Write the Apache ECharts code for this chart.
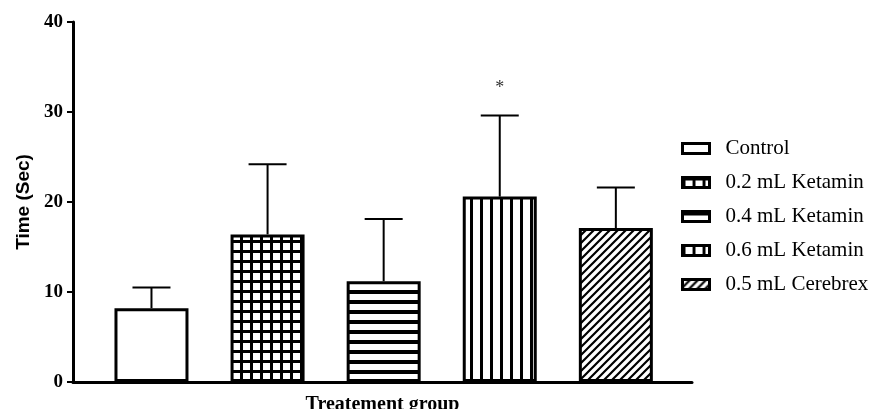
<!DOCTYPE html>
<html>
<head>
<meta charset="utf-8">
<script src="https://cdn.jsdelivr.net/npm/echarts@6/dist/echarts.min.js"></script>
<style>
  html, body { margin: 0; padding: 0; background: #fff; }
  #chart { width: 874px; height: 409px; }
</style>
</head>
<body>
<div id="chart"></div>
<script>
// Treatment groups, mean time (s) and the upper extent of the error bars (s)
const groups = ['Control', '0.2 mL Ketamin', '0.4 mL Ketamin', '0.6 mL Ketamin', '0.5 mL Cerebrex'];
const meanTime = [8.2, 16.4, 11.2, 20.6, 17.1];
const errorTop = [10.5, 24.2, 18.1, 29.6, 21.6];
const significance = ['', '', '', '*', ''];
const yTicks = [0, 10, 20, 30, 40];

// Hatch fills drawn on small tiles and repeated
function tile(w, h, draw) {
  const c = document.createElement('canvas');
  c.width = w; c.height = h;
  const ctx = c.getContext('2d');
  ctx.fillStyle = '#fff';
  ctx.fillRect(0, 0, w, h);
  ctx.fillStyle = '#000';
  ctx.strokeStyle = '#000';
  draw(ctx, w, h);
  return { image: c, repeat: 'repeat' };
}
const fills = [
  '#ffffff',
  tile(10, 10, (ctx) => { ctx.fillRect(0, 0, 10, 3); ctx.fillRect(0, 0, 3, 10); }),
  tile(10, 10, (ctx) => { ctx.fillRect(0, 0, 10, 4); }),
  tile(10, 10, (ctx) => { ctx.fillRect(0, 0, 3, 10); }),
  tile(8, 8, (ctx, w, h) => {
    ctx.lineWidth = 2.2;
    ctx.beginPath();
    ctx.moveTo(-1, h + 1); ctx.lineTo(w + 1, -1);
    ctx.moveTo(-1, 1); ctx.lineTo(1, -1);
    ctx.moveTo(w - 1, h + 1); ctx.lineTo(w + 1, h - 1);
    ctx.stroke();
  })
];

const chart = echarts.init(document.getElementById('chart'), null, { renderer: 'canvas' });

const barSeries = groups.map((name, i) => ({
  name: name,
  type: 'bar',
  barWidth: 74,
  barMaxWidth: 100,
  barGap: '-100%',
  data: [[i + 1, meanTime[i]]],
  itemStyle: { color: fills[i], borderColor: '#000', borderWidth: 3 },
  emphasis: { disabled: true },
  z: 2
}));

const errorSeries = {
  type: 'custom',
  name: 'error',
  data: groups.map((g, i) => [i + 1, meanTime[i], errorTop[i], significance[i]]),
  renderItem: function (params, api) {
    const x = api.coord([api.value(0), 0])[0];
    const yMean = api.coord([0, api.value(1)])[1];
    const yTop = api.coord([0, api.value(2)])[1];
    const half = 19;
    const children = [
      { type: 'line', shape: { x1: x, y1: yMean, x2: x, y2: yTop }, style: { stroke: '#000', lineWidth: 2 } },
      { type: 'line', shape: { x1: x - half, y1: yTop, x2: x + half, y2: yTop }, style: { stroke: '#000', lineWidth: 2 } }
    ];
    const mark = significance[params.dataIndex];
    if (mark) {
      children.push({
        type: 'text',
        style: {
          text: mark, x: x, y: yTop - 27,
          fill: '#333', font: '18px "Liberation Serif"',
          textAlign: 'center', textVerticalAlign: 'middle'
        }
      });
    }
    return { type: 'group', children: children };
  },
  z: 3,
  silent: true
};

chart.setOption({
  animation: false,
  backgroundColor: '#fff',
  grid: { left: 73, right: 182, top: 22, bottom: 27, containLabel: false, outerBoundsMode: 'none' },
  legend: {
    data: groups,
    orient: 'vertical',
    left: 681,
    top: 138,
    padding: 0,
    itemWidth: 27,
    itemHeight: 10,
    itemGap: 13,
    icon: 'rect',
    selectedMode: false,
    itemStyle: { borderColor: '#000', borderWidth: 3 },
    textStyle: {
      fontFamily: '"Liberation Serif"', fontSize: 21, color: '#000',
      lineHeight: 20, padding: [0, 0, 0, 11]
    }
  },
  xAxis: {
    type: 'value',
    min: 0.324,
    max: 5.656,
    name: 'Treatement group',
    nameLocation: 'middle',
    nameGap: 13,
    nameTextStyle: { fontFamily: '"Liberation Serif"', fontWeight: 'bold', fontSize: 20, color: '#000' },
    axisLine: { show: true, onZero: false, lineStyle: { color: '#000', width: 3 } },
    axisTick: { show: false },
    axisLabel: { show: false },
    splitLine: { show: false }
  },
  yAxis: {
    type: 'value',
    min: yTicks[0],
    max: yTicks[yTicks.length - 1],
    interval: 10,
    name: 'Time (Sec)',
    nameLocation: 'middle',
    nameGap: 40,
    nameRotate: 90,
    nameTextStyle: { fontFamily: '"Liberation Sans"', fontWeight: 'bold', fontSize: 19, color: '#000' },
    axisLine: { show: true, lineStyle: { color: '#000', width: 3 } },
    axisTick: { show: true, length: 6, lineStyle: { color: '#000', width: 2 } },
    axisLabel: {
      margin: 10,
      fontFamily: '"Liberation Serif"', fontWeight: 'bold', fontSize: 19, color: '#000'
    },
    splitLine: { show: false }
  },
  series: barSeries.concat([errorSeries])
});
</script>
</body>
</html>
